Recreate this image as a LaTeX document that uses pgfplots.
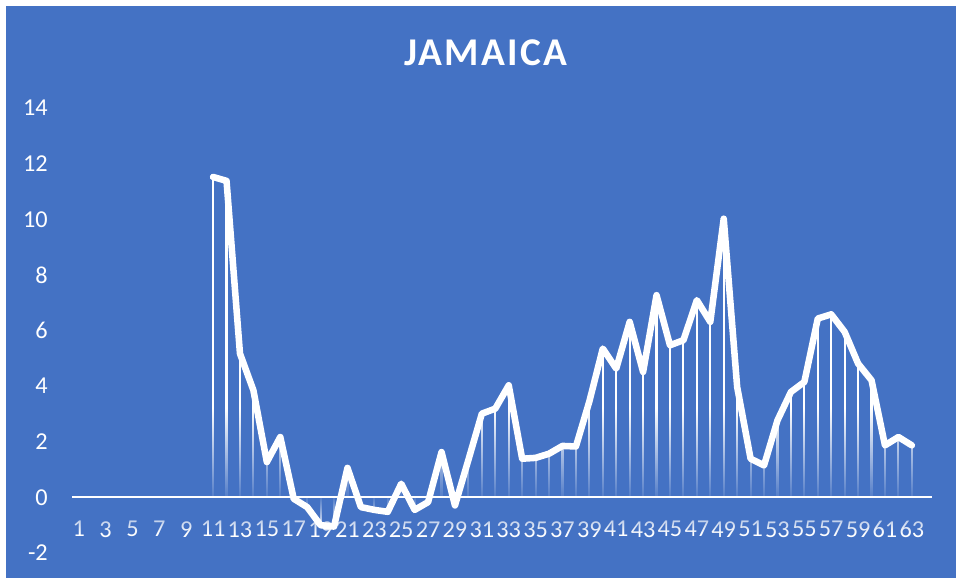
\documentclass[border=0pt]{standalone}
\usepackage{pgfplots}
\usepackage{pgfplotstable}
\pgfplotsset{compat=1.18}
\usepackage{fontspec}
\setmainfont{Carlito}
\usetikzlibrary{fadings}
\definecolor{bgblue}{HTML}{4472C4}
\tikzfading[name=fadepos, top color=transparent!100, bottom color=transparent!8]
\tikzfading[name=fadeneg, top color=transparent!8, bottom color=transparent!100]

\pgfplotstableread{
x y
11 11.52
12 11.38
13 5.17
14 3.85
15 1.27
16 2.17
17 -0.05
18 -0.35
19 -1.00
20 -1.05
21 1.06
22 -0.35
23 -0.45
24 -0.52
25 0.49
26 -0.45
27 -0.17
28 1.63
29 -0.29
30 1.35
31 3.01
32 3.19
33 4.03
34 1.39
35 1.42
36 1.57
37 1.85
38 1.83
39 3.45
40 5.35
41 4.63
42 6.31
43 4.51
44 7.27
45 5.47
46 5.65
47 7.09
48 6.31
49 10.02
50 3.97
51 1.39
52 1.15
53 2.77
54 3.79
55 4.15
56 6.43
57 6.58
58 5.95
59 4.81
60 4.21
61 1.87
62 2.17
63 1.87
}\jam

\begin{document}
\begin{tikzpicture}
\fill[white] (0,0) rectangle (717pt,433.5pt);
\fill[bgblue] (4.5pt,0) rectangle (717pt,429pt);
\node[text=white, inner sep=0, font=\bfseries\fontsize{29.5}{34}\selectfont\addfontfeatures{LetterSpace=6}] at (364.5pt,394pt) {JAMAICA};
\begin{axis}[
  at={(54pt,18.75pt)}, anchor=south west,
  scale only axis, width=645pt, height=333.75pt,
  xmin=0.5, xmax=64.5, ymin=-2, ymax=14,
  axis line style={draw=none},
  major tick length=0,
  xtick={1,3,...,63},
  ytick={-2,0,...,14},
  /pgf/number format/assume math mode=true,
  tick label style={text=white, font=\fontsize{18.2}{22}\selectfont, inner sep=0pt},
  xticklabel style={anchor=north, yshift=24pt},
  yticklabel style={anchor=east, xshift=-18pt},
  clip=false,
]
\addplot[ycomb, white, line width=1.6pt, no marks] table[x=x,y=y] {\jam};
\fill[bgblue, path fading=fadepos] (axis cs:0.5,0) rectangle (axis cs:64.5,3.2);
\fill[bgblue, path fading=fadeneg] (axis cs:0.5,-1.3) rectangle (axis cs:64.5,0);
\draw[white, line width=1.5pt] (axis cs:0.5,0) -- (axis cs:64.5,0);
\addplot[white, line width=4.9pt, line join=round, line cap=round, no marks] table[x=x,y=y] {\jam};
\end{axis}
\end{tikzpicture}
\end{document}
